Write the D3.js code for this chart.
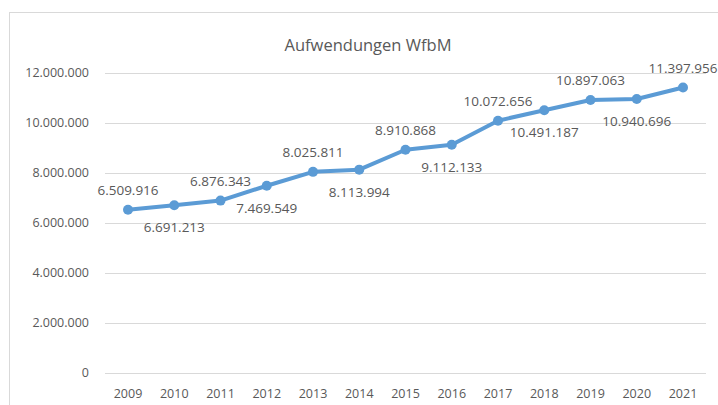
<!DOCTYPE html>
<html><head><meta charset="utf-8">
<script src="https://cdn.jsdelivr.net/npm/d3@7"></script>
<style>body{margin:0;background:#fff}svg{display:block}text{font-family:"Open Sans",sans-serif;fill:#595959}</style>
</head><body>
<script>
const years = ["2009","2010","2011","2012","2013","2014","2015","2016","2017","2018","2019","2020","2021"];
const values = [6509916,6691213,6876343,7469549,8025811,8113994,8910868,9112133,10072656,10491187,10897063,10940696,11397956];
const labelPos = ["above","below","above","below","above","below","above","below","above","below","above","below","above"];
const yTicks = [0,2000000,4000000,6000000,8000000,10000000,12000000];
const title = "Aufwendungen WfbM";

const W=718,H=405;
const svg=d3.select("body").append("svg").attr("width",W).attr("height",H);
svg.append("rect").attr("x",9.5).attr("y",12.5).attr("width",730).attr("height",420)
  .attr("fill","#fff").attr("stroke","#d9d9d9");

const fmt = v => d3.format(",")(v).replace(/,/g,".");
const x=d3.scalePoint().domain(years).range([128,683]).padding(0);
const y=d3.scaleLinear().domain([0,12000000]).range([372.5,72.5]);

svg.append("text").attr("x",368).attr("y",51).attr("text-anchor","middle")
  .style("font-size","16.5px").text(title);

const g=svg.append("g");
g.selectAll("line.grid").data(yTicks).join("line").attr("class","grid")
  .attr("x1",105).attr("x2",706).attr("y1",d=>Math.round(y(d))+0.5).attr("y2",d=>Math.round(y(d))+0.5)
  .attr("stroke","#d9d9d9").attr("stroke-width",1);
g.selectAll("text.yt").data(yTicks).join("text").attr("class","yt")
  .attr("x",89).attr("y",d=>y(d)+4.5).attr("text-anchor","end")
  .style("font-size","12.5px").text(d=>fmt(d));
g.selectAll("text.xt").data(years).join("text").attr("class","xt")
  .attr("x",d=>x(d)).attr("y",398).attr("text-anchor","middle")
  .style("font-size","12.5px").text(d=>d);

const line=d3.line().x((d,i)=>x(years[i])).y(d=>y(d));
svg.append("path").datum(values).attr("d",line).attr("fill","none")
  .attr("stroke","#5b9bd5").attr("stroke-width",4).attr("stroke-linejoin","round").attr("stroke-linecap","round");
svg.selectAll("circle").data(values).join("circle")
  .attr("cx",(d,i)=>x(years[i])).attr("cy",d=>y(d)).attr("r",5).attr("fill","#5b9bd5");
svg.selectAll("text.dl").data(values).join("text").attr("class","dl")
  .attr("x",(d,i)=>x(years[i])).attr("y",(d,i)=>labelPos[i]==="above"? y(d)-15 : y(d)+27)
  .attr("text-anchor","middle").style("font-size","13.5px").text(d=>fmt(d));
</script>
</body></html>
